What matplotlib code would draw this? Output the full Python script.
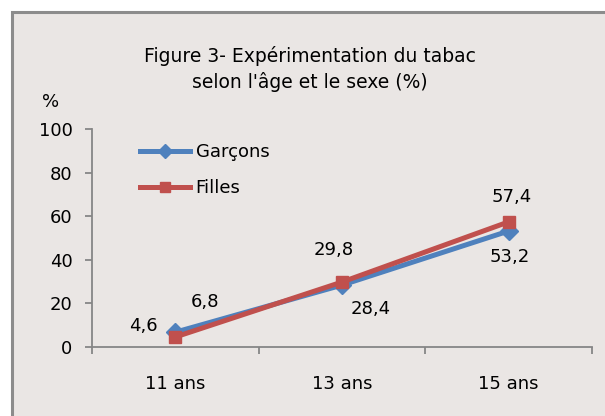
import matplotlib
matplotlib.use("Agg")
import matplotlib.pyplot as plt
from matplotlib.patches import Rectangle

# data
ages = ["11 ans", "13 ans", "15 ans"]
garcons = [6.8, 28.4, 53.2]
filles = [4.6, 29.8, 57.4]
garcons_lbl = ["6,8", "28,4", "53,2"]
filles_lbl = ["4,6", "29,8", "57,4"]

bg = "#EAE6E4"
blue = "#4F81BD"
red = "#C0504D"
grey = "#868686"

plt.rcParams['font.family'] = ['DejaVu Sans']

fig = plt.figure(figsize=(6.05, 4.16), dpi=100, facecolor="white")

# chart area frame (runs off the right/bottom edge like the source)
top = 1 - 12/416
frame = Rectangle((12/605, -0.05), 1.1, top + 0.05, transform=fig.transFigure,
                  facecolor=bg, edgecolor="#8C8C8C", linewidth=2.2, zorder=-5)
fig.patches.append(frame)

ax = fig.add_axes([92/605, 1 - 347/416, 500/605, 218/416])
ax.patch.set_alpha(0)

x = list(range(len(ages)))
ax.plot(x, garcons, color=blue, lw=3.6, marker="D", ms=9, label="Garçons", zorder=3)
ax.plot(x, filles, color=red, lw=3.6, marker="s", ms=9, label="Filles", zorder=4)

ax.set_xlim(-0.5, 2.5)
ax.set_ylim(0, 100)
ax.set_yticks(range(0, 101, 20))
ax.set_xticks(x)
ax.set_xticklabels(ages)
ax.set_xticks([-0.5, 0.5, 1.5, 2.5], minor=True)

for s in ["top", "right"]:
    ax.spines[s].set_visible(False)
for s in ["left", "bottom"]:
    ax.spines[s].set_color(grey)
    ax.spines[s].set_linewidth(1.3)

fs = 13
ax.tick_params(axis="y", direction="out", length=5, width=1.3, color=grey,
               labelsize=fs, pad=9)
ax.tick_params(axis="x", which="major", length=0, labelsize=fs, pad=20)
ax.tick_params(axis="x", which="minor", direction="out", length=5, width=1.3, color=grey)

# data labels
g_off = [(30, 30), (29, -24), (1, -26)]
f_off = [(-32, 11), (-8, 32), (3, 25)]
for i in x:
    ax.annotate(garcons_lbl[i], (i, garcons[i]), xytext=g_off[i], textcoords="offset pixels",
                ha="center", va="center", fontsize=fs)
    ax.annotate(filles_lbl[i], (i, filles[i]), xytext=f_off[i], textcoords="offset pixels",
                ha="center", va="center", fontsize=fs)

leg = ax.legend(loc="upper left", bbox_to_anchor=(0.063, 1.01), frameon=False, fontsize=fs,
                handlelength=2.8, labelspacing=1.0, handletextpad=0.3, markerscale=0.8)

fig.text(310/605, 1 - 69/416, "Figure 3- Expérimentation du tabac\nselon l'âge et le sexe (%)",
         ha="center", va="center", fontsize=13.5, linespacing=1.4)
fig.text(51/605, 1 - 102/416, "%", ha="center", va="center", fontsize=fs)

fig.savefig("out.png", dpi=100, facecolor="white")
